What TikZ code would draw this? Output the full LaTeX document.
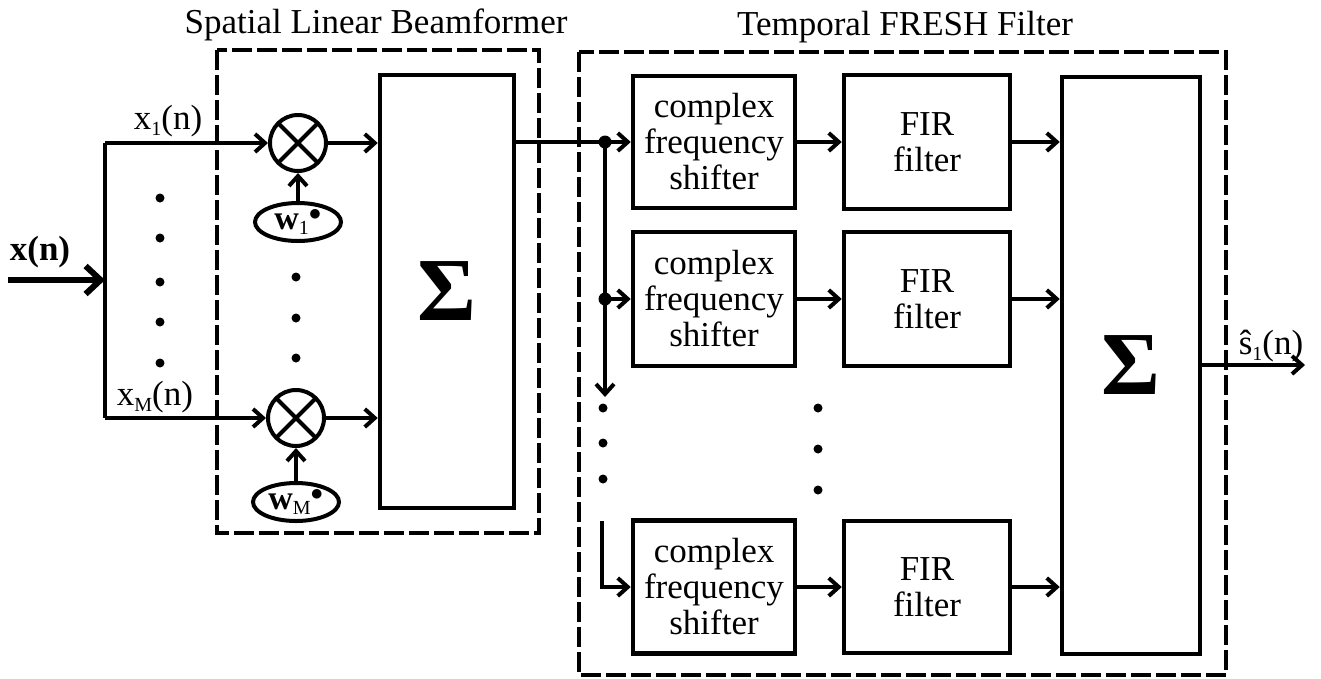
\documentclass[tikz,border=0pt]{standalone}
\usepackage{fontspec}
\setmainfont{Liberation Serif}
\usetikzlibrary{arrows.meta,shapes.geometric,calc}
\newcommand\mysub[1]{\raisebox{-0.35ex}{\fontsize{20}{20}\selectfont #1}}
\begin{document}
\begin{tikzpicture}[x=1pt,y=-1pt,
  line/.style={line width=4pt},
  conn/.style={line width=4pt,-{Straight Barb[length=10pt,width=18pt]}},
  bigarrow/.style={line width=6pt,-{Straight Barb[length=15pt,width=28pt]}},
  blk/.style={draw,line width=4.5pt,align=center,inner sep=0pt,font=\fontsize{35}{36}\selectfont},
  sumbox/.style={draw,line width=4.5pt,inner sep=0pt,font=\fontsize{90}{90}\selectfont\bfseries},
  mult/.style={circle,draw,line width=4pt,minimum size=56pt,inner sep=0pt,
    path picture={\draw[line width=4pt] (path picture bounding box.north west) -- (path picture bounding box.south east)
      (path picture bounding box.south west) -- (path picture bounding box.north east);}},
  wt/.style={ellipse,draw,line width=4pt,minimum width=86pt,minimum height=38pt,inner sep=0pt,font=\fontsize{34}{34}\selectfont},
  dbox/.style={line width=4pt,dash pattern=on 20pt off 5pt},
  title/.style={font=\fontsize{35}{36}\selectfont,anchor=base,inner sep=0pt},
  lbl/.style={font=\fontsize{35}{36}\selectfont,inner sep=0pt},
  dot/.style={fill=black}
]
\useasboundingbox (0,0) rectangle (1321,678);

% titles
\node[title] (t1) at (376,33) {Spatial Linear Beamformer};
\node[title] (t2) at (905,35) {Temporal FRESH Filter};

% dashed groups
\draw[dbox] (217,50) rectangle (539,533);
\draw[dbox] (579,52) rectangle (1226,675);

% beamformer
\node[mult] (m1) at (298,143) {};
\node[mult] (m2) at (296,418) {};
\node[wt] (w1) at (298,222) {\textbf{w}\mysub{1}$^{\bullet}$};
\node[wt] (wM) at (296,502) {\textbf{w}\mysub{M}$^{\bullet}$};
\node[sumbox,minimum width=134pt,minimum height=433pt] (S1) at (447,291.5) {Σ};

% FRESH filter
\node[blk,minimum width=162pt,minimum height=132pt] (c1) at (714,142) {complex\\frequency\\shifter};
\node[blk,minimum width=162pt,minimum height=134pt] (c2) at (714,299) {complex\\frequency\\shifter};
\node[blk,minimum width=162pt,minimum height=133pt] (c3) at (714,587) {complex\\frequency\\shifter};
\node[blk,minimum width=166pt,minimum height=134pt] (f1) at (927,142) {FIR\\filter};
\node[blk,minimum width=166pt,minimum height=134pt] (f2) at (927,299) {FIR\\filter};
\node[blk,minimum width=166pt,minimum height=132pt] (f3) at (927,587) {FIR\\filter};
\node[sumbox,minimum width=138pt,minimum height=577pt] (S2) at (1131,365.5) {Σ};

% labels
\node[lbl] (lx) at (40,252) {\textbf{x(n)}};
\node[lbl] (lx1) at (168,121) {x\mysub{1}(n)};
\node[lbl] (lxM) at (155,397) {x\mysub{M}(n)};
\node[lbl] (ls) at (1271,346) {ŝ\mysub{1}(n)};

% input splitting
\coordinate (in0) at (8,280);
\coordinate (sp) at (105,280);
\coordinate (tp) at (105,143);
\coordinate (bt) at (105,418);
\draw[bigarrow] (in0) -- (sp);
\draw[line] (tp) -- (bt);
\draw[conn] (tp) -- (m1.west);
\draw[conn] (bt) -- (m2.west);
\draw[conn] (w1.north) -- (m1.south);
\draw[conn] (wM.north) -- (m2.south);
\draw[conn] (m1.east) -- (m1.east -| S1.west);
\draw[conn] (m2.east) -- (m2.east -| S1.west);

% branching to shifters
\coordinate (j1) at (605,142);
\coordinate (j2) at (605,299);
\coordinate (jd) at (605,397);
\coordinate (j3) at (602,521);
\draw[line] (S1.east |- j1) -- (j1);
\draw[conn] (j1) -- (c1.west);
\draw[conn] (j1) -- (jd);
\draw[conn] (j2) -- (c2.west);
\draw[conn] (j3) |- (c3.west);
\fill (j1) circle (6.5);
\fill (j2) circle (6.5);

\draw[conn] (c1.east) -- (f1.west);
\draw[conn] (c2.east) -- (f2.west);
\draw[conn] (c3.east) -- (f3.west);
\draw[conn] (f1.east) -- (f1.east -| S2.west);
\draw[conn] (f2.east) -- (f2.east -| S2.west);
\draw[conn] (f3.east) -- (f3.east -| S2.west);

\coordinate (out) at (1305,365);
\draw[conn] (S2.east |- out) -- (out);

% ellipsis dots
\foreach \yy in {198,238,282,322,363} \fill[dot] (160,\yy) circle (4.5);
\foreach \yy in {277,318,358} \fill[dot] (296,\yy) circle (4.5);
\foreach \yy in {408,443,479} \fill[dot] (603,\yy) circle (4.5);
\foreach \yy in {408,449,490} \fill[dot] (818,\yy) circle (4.5);
\end{tikzpicture}
\end{document}
